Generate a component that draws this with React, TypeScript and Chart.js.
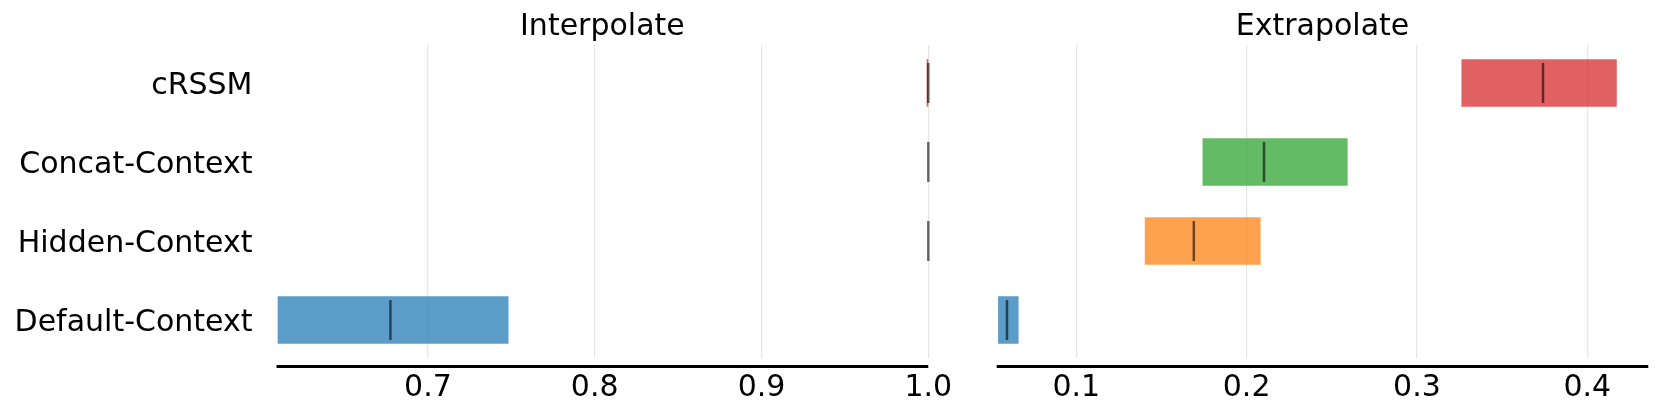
import React, { useEffect, useRef } from 'react';
import { Chart, registerables } from 'chart.js';

Chart.register(...registerables);

const categories = ['cRSSM', 'Concat-Context', 'Hidden-Context', 'Default-Context'];
const barColors = [
  'rgba(214,39,40,0.73)',
  'rgba(44,160,44,0.73)',
  'rgba(255,127,14,0.73)',
  'rgba(31,119,180,0.73)',
];

const interpLow = [0.999, 1.0, 1.0, 0.6099];
const interpHigh = [1.0, 1.0, 1.0, 0.7483];
const interpMedian = [1.0, 1.0, 1.0, 0.6775];
const interpTicks = [0.7, 0.8, 0.9, 1.0];

const extrapLow = [0.3261, 0.1741, 0.1402, 0.0541];
const extrapHigh = [0.4173, 0.2593, 0.2082, 0.0661];
const extrapMedian = [0.374, 0.2102, 0.169, 0.0593];
const extrapTicks = [0.1, 0.2, 0.3, 0.4];

const FONT = 'DejaVu Sans';

const panelDecor = {
  id: 'panelDecor',
  afterDraw(chart: any, _args: any, opts: any) {
    const { ctx, chartArea } = chart;
    ctx.save();
    ctx.strokeStyle = '#000';
    ctx.lineWidth = 3;
    ctx.beginPath();
    ctx.moveTo(chartArea.left, chartArea.bottom + 8.6);
    ctx.lineTo(chartArea.right, chartArea.bottom + 8.6);
    ctx.stroke();
    ctx.fillStyle = '#000';
    ctx.font = `30px "${FONT}"`;
    ctx.textAlign = 'center';
    ctx.textBaseline = 'alphabetic';
    ctx.fillText(opts.text, (chartArea.left + chartArea.right) / 2, 35);
    ctx.restore();
  },
};

function makeConfig(
  title: string,
  low: number[],
  high: number[],
  median: number[],
  ticks: number[],
  xmin: number,
  xmax: number,
  showLabels: boolean,
  padding: any
): any {
  return {
    type: 'bar',
    data: {
      datasets: [
        {
          type: 'scatter',
          data: median.map((m, i) => ({ x: m, y: i })),
          pointStyle: 'line',
          pointRotation: 90,
          pointRadius: 20,
          pointHoverRadius: 20,
          pointBorderWidth: 2.5,
          pointBorderColor: 'rgba(0,0,0,0.58)',
          pointBackgroundColor: 'rgba(0,0,0,0.58)',
          showLine: false,
          clip: false,
        },
        {
          type: 'bar',
          data: low.map((l, i) => ({ x: [l, high[i]], y: i })),
          backgroundColor: barColors,
          borderWidth: 0,
          barPercentage: 0.6,
          categoryPercentage: 1,
          clip: false,
        },
      ],
    },
    options: {
      indexAxis: 'y',
      animation: false,
      responsive: false,
      events: [],
      layout: { padding, autoPadding: false },
      plugins: {
        legend: { display: false },
        tooltip: { enabled: false },
        title: { display: false },
        panelDecor: { text: title },
      },
      scales: {
        x: {
          type: 'linear',
          min: xmin,
          max: xmax,
          offset: false,
          afterBuildTicks: (scale: any) => {
            scale.ticks = ticks.map((v) => ({ value: v }));
          },
          afterFit: (scale: any) => {
            scale.height = 57;
            scale.paddingLeft = 0;
            scale.paddingRight = 0;
            scale.paddingTop = 0;
            scale.paddingBottom = 0;
          },
          ticks: {
            font: { family: FONT, size: 30 },
            color: '#000',
            padding: 12,
            maxRotation: 0,
            autoSkip: false,
            callback: (v: number) => v.toFixed(1),
          },
          grid: { color: '#e6e6e6', lineWidth: 1.3, drawTicks: false, offset: false },
          border: { display: false },
        },
        y: {
          type: 'linear',
          reverse: true,
          min: -0.48,
          max: 3.48,
          offset: false,
          display: showLabels,
          afterBuildTicks: (scale: any) => {
            scale.ticks = categories.map((_, i) => ({ value: i }));
          },
          afterFit: (scale: any) => {
            scale.width = showLabels ? 276.5 : 0;
            scale.paddingTop = 0;
            scale.paddingBottom = 0;
            scale.paddingLeft = 0;
            scale.paddingRight = 0;
          },
          ticks: {
            font: { family: FONT, size: 30 },
            color: '#000',
            padding: 24,
            labelOffset: 3,
            autoSkip: false,
            callback: (v: number) => categories[v],
          },
          grid: { display: false, drawTicks: false, offset: false },
          border: { display: false },
        },
      },
    },
    plugins: [panelDecor],
  };
}

function Panel(props: { cfg: any; left: number; width: number }) {
  const ref = useRef<HTMLCanvasElement | null>(null);
  useEffect(() => {
    if (!ref.current) return;
    const chart = new Chart(ref.current, props.cfg);
    return () => chart.destroy();
  }, []);
  return (
    <canvas
      ref={ref}
      width={props.width}
      height={415}
      style={{ position: 'absolute', left: props.left, top: 0, width: props.width, height: 415 }}
    />
  );
}

export default function App() {
  const leftCfg = useRef(
    makeConfig('Interpolate', interpLow, interpHigh, interpMedian, interpTicks, 0.6092, 1.0, true, {
      top: 45,
      right: 31.7,
      left: 0,
      bottom: 0,
    })
  ).current;
  const rightCfg = useRef(
    makeConfig('Extrapolate', extrapLow, extrapHigh, extrapMedian, extrapTicks, 0.05327, 0.43581, false, {
      top: 45,
      right: 11.7,
      left: 36.7,
      bottom: 0,
    })
  ).current;
  return (
    <div style={{ position: 'fixed', left: 0, top: 0, width: 1660, height: 415, background: '#fff' }}>
      <Panel cfg={leftCfg} left={0} width={960} />
      <Panel cfg={rightCfg} left={960} width={700} />
    </div>
  );
}
